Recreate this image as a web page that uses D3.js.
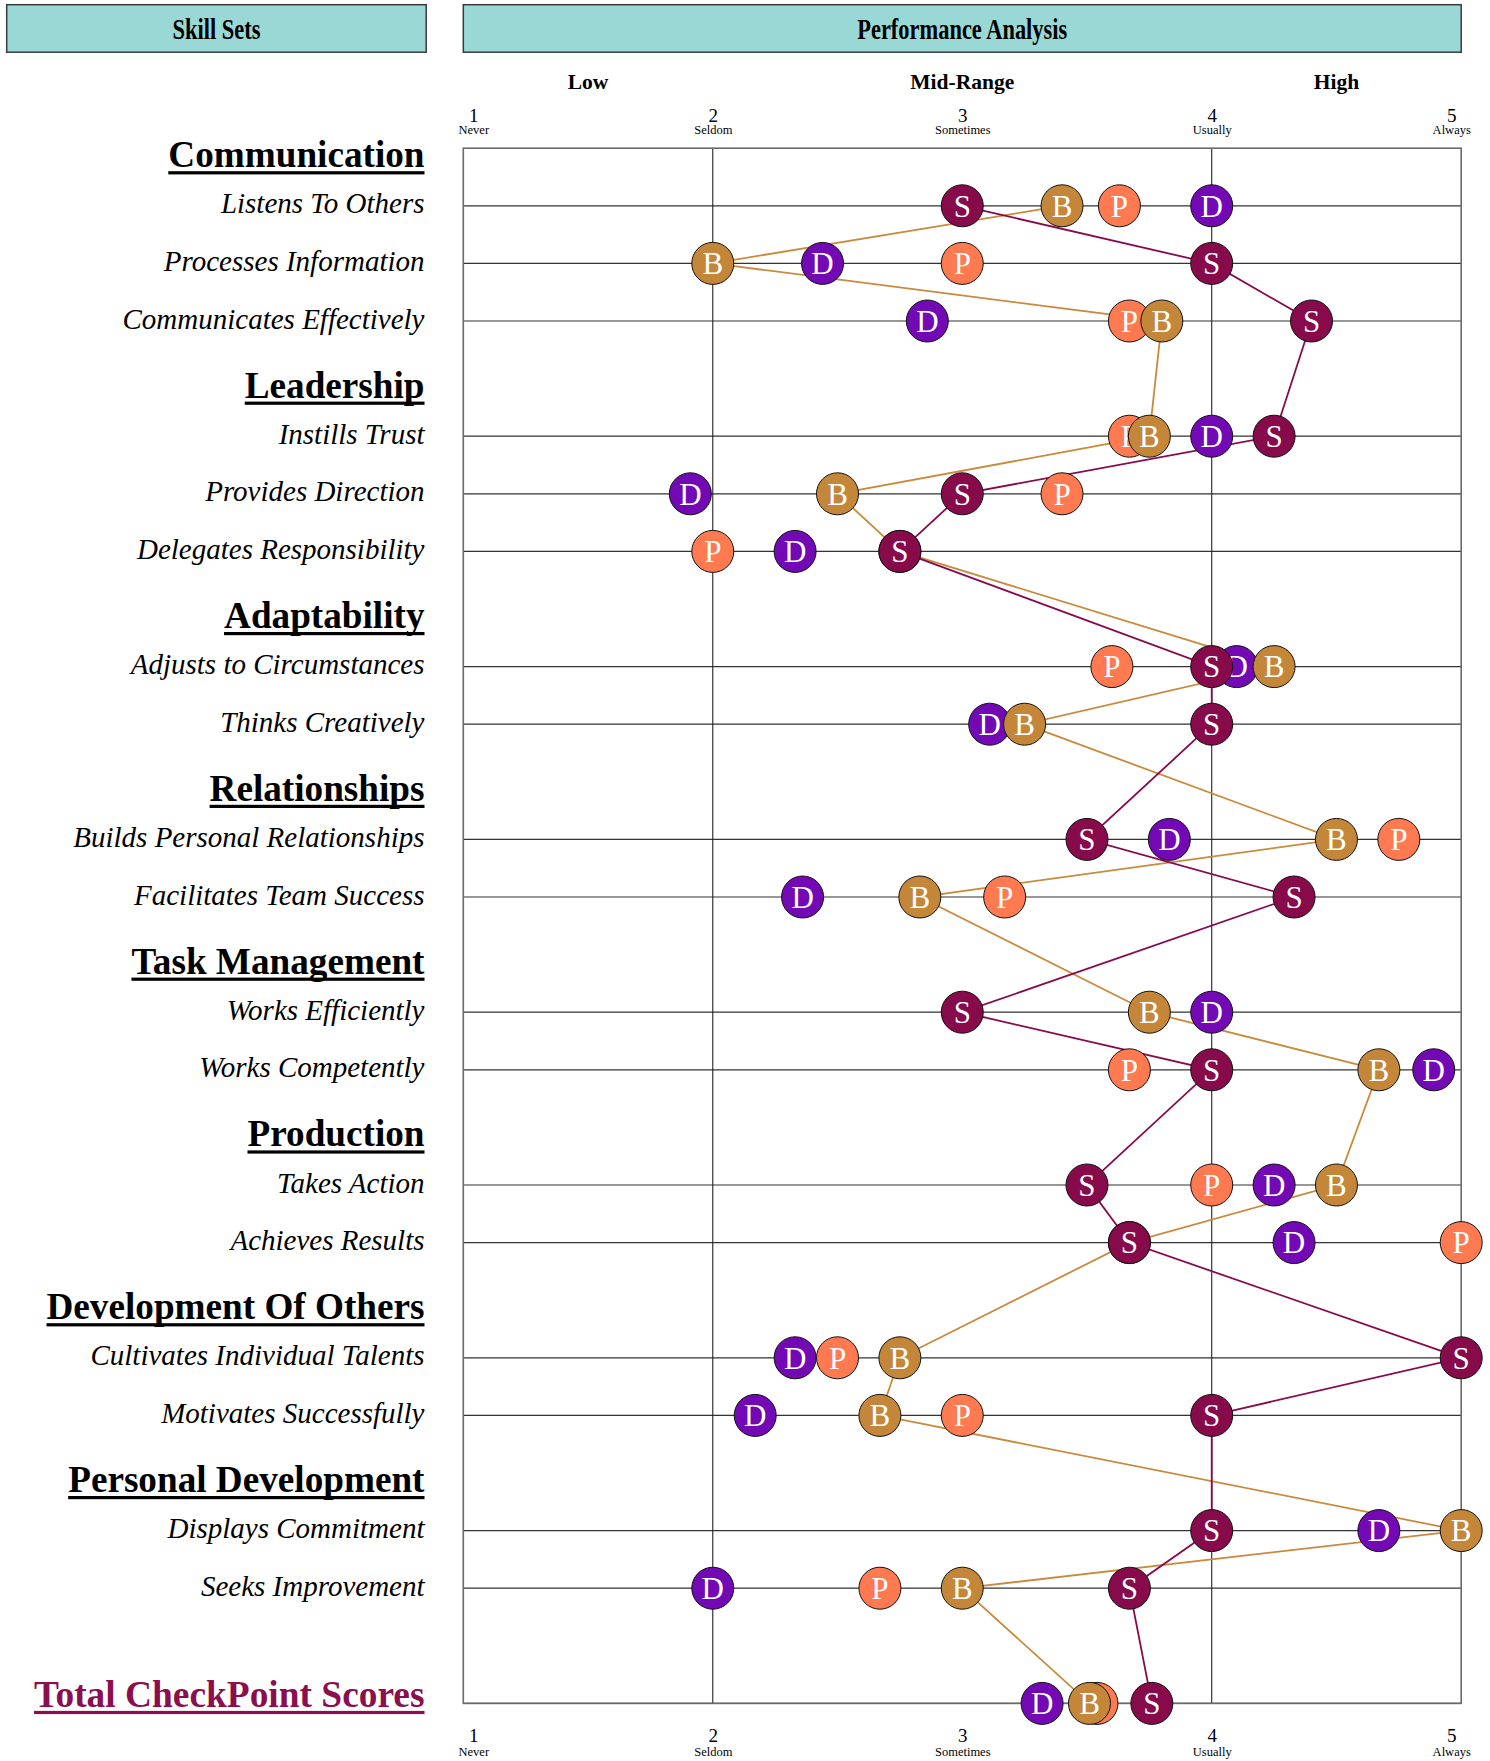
<!DOCTYPE html>
<html>
<head>
<meta charset="utf-8">
<script src="https://cdn.jsdelivr.net/npm/d3@7"></script>
<style>
  html, body { margin: 0; padding: 0; background: #ffffff; }
  svg { display: block; font-family: "Liberation Serif", "Times New Roman", serif; }
</style>
</head>
<body>
<svg id="chart" width="1490" height="1761"></svg>
<script>
// ---------------- DATA ----------------
const categories = ["Communication", "Leadership", "Adaptability", "Relationships",
  "Task Management", "Production", "Development Of Others", "Personal Development"];
const skills = ["Listens To Others", "Processes Information", "Communicates Effectively",
  "Instills Trust", "Provides Direction", "Delegates Responsibility",
  "Adjusts to Circumstances", "Thinks Creatively",
  "Builds Personal Relationships", "Facilitates Team Success",
  "Works Efficiently", "Works Competently",
  "Takes Action", "Achieves Results",
  "Cultivates Individual Talents", "Motivates Successfully",
  "Displays Commitment", "Seeks Improvement"];
const skillGroup = [0,0,0, 1,1,1, 2,2, 3,3, 4,4, 5,5, 6,6, 7,7];
const totalLabel = "Total CheckPoint Scores";
// last value of each series = Total CheckPoint Score
const seriesS = [3.0, 4.0, 4.4, 4.25, 3.0, 2.75, 4.0, 4.0, 3.5, 4.33, 3.0, 4.0, 3.5, 3.67, 5.0, 4.0, 4.0, 3.67, 3.76];
const seriesB = [3.4, 2.0, 3.8, 3.75, 2.5, 2.75, 4.25, 3.25, 4.5, 2.83, 3.75, 4.67, 4.5, 3.67, 2.75, 2.67, 5.0, 3.0, 3.51];
const seriesP = [3.63, 3.0, 3.67, 3.67, 3.4, 2.0, 3.6, null, 4.75, 3.17, null, 3.67, 4.0, 5.0, 2.5, 3.0, null, 2.67, 3.54];
const seriesD = [4.0, 2.44, 2.86, 4.0, 1.91, 2.33, 4.1, 3.11, 3.83, 2.36, 4.0, 4.89, 4.25, 4.33, 2.33, 2.17, 4.67, 2.0, 3.32];
const tickValues = [1, 2, 3, 4, 5];
const tickWords = ["Never", "Seldom", "Sometimes", "Usually", "Always"];
const bandLabels = ["Low", "Mid-Range", "High"];
const bandCenters = [1.5, 3, 4.5];

// ---------------- LAYOUT ----------------
const svg = d3.select("#chart");
const x = d3.scaleLinear().domain([1, 5]).range([463.3, 1461.2]);
const y = d3.scaleLinear().domain([0, 27]).range([148.2, 1703.4]);

// slot computation
const headerSlot = [];
const itemSlot = [];
let s = 0;
categories.forEach((c, ci) => {
  headerSlot.push(s++);
  skills.forEach((k, i) => { if (skillGroup[i] === ci) itemSlot[i] = s++; });
});
const totalSlot = s + 1;
const rowSlots = itemSlot.concat([totalSlot]);

const colS = "#870A4B", colB = "#C4873A", colP = "#FF7A50", colD = "#7209B5";
const teal = "#9AD8D5";

// ---------------- HEADER BOXES ----------------
svg.append("rect").attr("x", 6.7).attr("y", 4.7).attr("width", 419.5).attr("height", 47.5)
  .attr("fill", teal).attr("stroke", "#3a3a3a").attr("stroke-width", 1.5);
svg.append("rect").attr("x", x(1)).attr("y", 4.7).attr("width", x(5) - x(1)).attr("height", 47.5)
  .attr("fill", teal).attr("stroke", "#3a3a3a").attr("stroke-width", 1.5);
svg.append("text").attr("x", (6.7 + 426.2) / 2).attr("y", 38.5).attr("text-anchor", "middle")
  .attr("font-size", 30).attr("font-weight", "bold").attr("textLength", 88)
  .attr("lengthAdjust", "spacingAndGlyphs").text("Skill Sets");
svg.append("text").attr("x", (x(1) + x(5)) / 2).attr("y", 38.5).attr("text-anchor", "middle")
  .attr("font-size", 30).attr("font-weight", "bold").attr("textLength", 210)
  .attr("lengthAdjust", "spacingAndGlyphs").text("Performance Analysis");

// band labels
svg.selectAll("text.band").data(bandLabels).enter().append("text")
  .attr("class", "band")
  .attr("x", (d, i) => x(bandCenters[i])).attr("y", 89)
  .attr("text-anchor", "middle").attr("font-size", 21.5).attr("font-weight", "bold")
  .text(d => d);

// ---------------- AXES ----------------
function styleAxis(g, numY, wordY) {
  g.select(".domain").remove();
  g.selectAll(".tick line").remove();
  g.selectAll(".tick text")
    .attr("y", numY).attr("dy", null)
    .attr("x", d => d === 1 ? 10 : (d === 5 ? -10 : 0))
    .attr("font-size", 19).attr("font-family", "Liberation Serif, Times New Roman, serif")
    .attr("fill", "#000");
  g.selectAll(".tick").append("text")
    .attr("x", d => d === 1 ? 10 : (d === 5 ? -10 : 0))
    .attr("y", wordY).attr("text-anchor", "middle")
    .attr("font-size", 12.5).attr("font-family", "Liberation Serif, Times New Roman, serif")
    .attr("fill", "#000")
    .text(d => tickWords[tickValues.indexOf(d)]);
}
const topAxis = svg.append("g").attr("transform", "translate(0,0)")
  .call(d3.axisTop(x).tickValues(tickValues).tickSize(0).tickFormat(d3.format("d")));
styleAxis(topAxis, 121.5, 133.5);
const botAxis = svg.append("g").attr("transform", "translate(0,0)")
  .call(d3.axisBottom(x).tickValues(tickValues).tickSize(0).tickFormat(d3.format("d")));
styleAxis(botAxis, 1741.5, 1756);

// ---------------- GRID ----------------
const grid = svg.append("g");
grid.selectAll("line.h").data(rowSlots).enter().append("line")
  .attr("x1", x(1)).attr("x2", x(5))
  .attr("y1", d => y(d)).attr("y2", d => y(d))
  .attr("stroke", "#333").attr("stroke-width", 1.2);
grid.selectAll("line.v").data([2, 4]).enter().append("line")
  .attr("x1", d => x(d)).attr("x2", d => x(d))
  .attr("y1", y(0)).attr("y2", y(27))
  .attr("stroke", "#222").attr("stroke-width", 1.1);
grid.append("rect").attr("x", x(1)).attr("y", y(0))
  .attr("width", x(5) - x(1)).attr("height", y(27) - y(0))
  .attr("fill", "none").attr("stroke", "#6a6a6a").attr("stroke-width", 1.6);

// ---------------- SERIES LINES ----------------
const line = d3.line()
  .defined(d => d.v !== null)
  .x(d => x(d.v)).y(d => y(d.slot));
const toPts = arr => arr.map((v, i) => ({ v: v, slot: rowSlots[i] }));
svg.append("path").datum(toPts(seriesB)).attr("d", line)
  .attr("fill", "none").attr("stroke", "#C98A3C").attr("stroke-width", 1.8);
svg.append("path").datum(toPts(seriesS)).attr("d", line)
  .attr("fill", "none").attr("stroke", colS).attr("stroke-width", 1.8);

// ---------------- MARKERS ----------------
const markerSeries = [
  { key: "D", vals: seriesD, color: colD },
  { key: "P", vals: seriesP, color: colP },
  { key: "B", vals: seriesB, color: colB },
  { key: "S", vals: seriesS, color: colS }
];
markerSeries.forEach(ms => {
  const pts = toPts(ms.vals).filter(d => d.v !== null);
  const g = svg.append("g").selectAll("g").data(pts).enter().append("g")
    .attr("transform", d => `translate(${x(d.v)},${y(d.slot)})`);
  g.append("circle").attr("r", 21).attr("fill", ms.color)
    .attr("stroke", "#111").attr("stroke-width", 1);
  g.append("text").attr("text-anchor", "middle").attr("y", 10.8)
    .attr("font-size", 31).attr("fill", "#fff").text(ms.key);
});

// ---------------- LEFT LABELS ----------------
const labelRight = 424.5;
function underlined(txt, yy, color, size) {
  const t = svg.append("text").attr("x", labelRight).attr("y", yy)
    .attr("text-anchor", "end").attr("font-size", size).attr("font-weight", "bold")
    .attr("fill", color).text(txt);
  const len = t.node().getComputedTextLength();
  svg.append("rect").attr("x", labelRight - len).attr("y", yy + 4)
    .attr("width", len).attr("height", 3.2).attr("fill", color);
}
categories.forEach((c, ci) => underlined(c, y(headerSlot[ci]) + 19, "#000", 37.2));
svg.selectAll("text.skill").data(skills).enter().append("text")
  .attr("class", "skill")
  .attr("x", labelRight).attr("y", (d, i) => y(itemSlot[i]) + 7.5)
  .attr("text-anchor", "end").attr("font-size", 29).attr("font-style", "italic")
  .text(d => d);
underlined(totalLabel, y(totalSlot) + 3.5, "#8B0F4E", 37.4);
</script>
</body>
</html>
